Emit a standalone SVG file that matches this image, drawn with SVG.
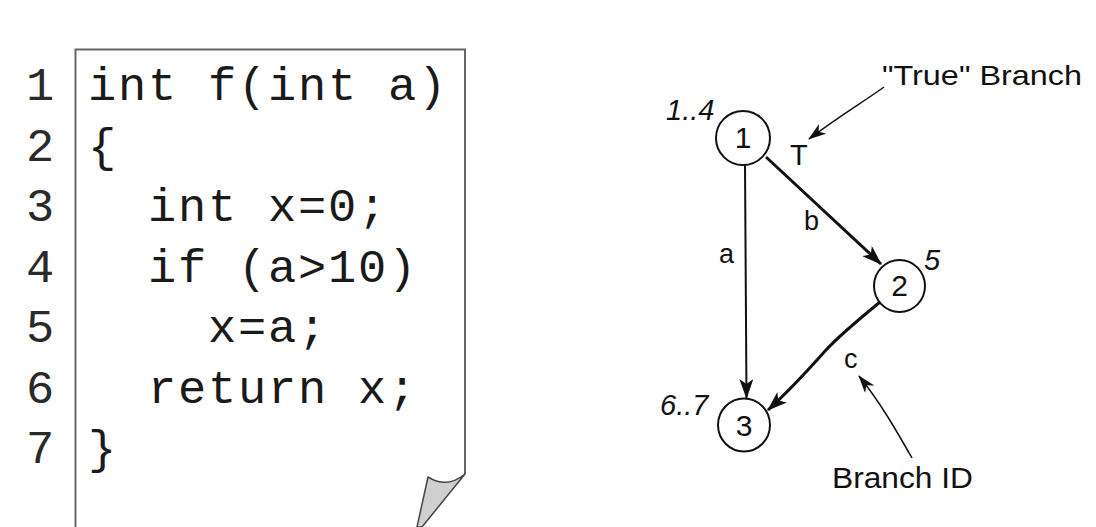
<svg xmlns="http://www.w3.org/2000/svg" width="1096" height="527" viewBox="0 0 1096 527">
<style>
.code{font-family:"Liberation Mono","Courier New",monospace;font-size:47px;letter-spacing:1.8px;fill:#1a1a1a}
.ln{font-family:"Liberation Mono","Courier New",monospace;font-size:47px;fill:#2a2a2a;text-anchor:middle}
.lbl{font-family:"Liberation Sans",Arial,sans-serif;fill:#111}
.num{font-family:"Liberation Sans",Arial,sans-serif;font-size:30px;fill:#111;text-anchor:middle}
.it{font-family:"Liberation Sans",Arial,sans-serif;font-size:29px;font-style:italic;fill:#111}
.node{fill:#fff;stroke:#111;stroke-width:2}
.edge{fill:none;stroke:#111}
</style>
<defs>
<marker id="ah" viewBox="0 0 20 14" refX="19" refY="7" markerWidth="20" markerHeight="14" markerUnits="userSpaceOnUse" orient="auto">
<path d="M0,0 L20,7 L0,14 L5,7 Z" fill="#111"/>
</marker>
<marker id="ahs" viewBox="0 0 18 12" refX="17" refY="6" markerWidth="18" markerHeight="12" markerUnits="userSpaceOnUse" orient="auto">
<path d="M0,0 L18,6 L0,12 L5,6 Z" fill="#111"/>
</marker>
</defs>
<rect width="1096" height="527" fill="#fff"/>
<g id="page">
<path d="M75.5,527 L75.5,49.5 L465,49.5 L465,474" fill="none" stroke="#666" stroke-width="2"/>
<path d="M465,474 Q447,489 428,477 L417,527 L422,527 Z" fill="#cfcfcf" stroke="#444" stroke-width="1.5" stroke-linejoin="round"/>
</g>
<g id="line-numbers">
<text class="ln" x="40" y="100">1</text>
<text class="ln" x="40" y="160.5">2</text>
<text class="ln" x="40" y="221">3</text>
<text class="ln" x="40" y="281.5">4</text>
<text class="ln" x="40" y="342">5</text>
<text class="ln" x="40" y="402.5">6</text>
<text class="ln" x="40" y="463">7</text>
</g>
<g id="code">
<text class="code" x="88" y="100" xml:space="preserve">int f(int a)</text>
<text class="code" x="88" y="160.5">{</text>
<text class="code" x="148" y="221" xml:space="preserve">int x=0;</text>
<text class="code" x="148" y="281.5" xml:space="preserve">if (a&gt;10)</text>
<text class="code" x="208" y="342">x=a;</text>
<text class="code" x="148" y="402.5" xml:space="preserve">return x;</text>
<text class="code" x="88" y="463">}</text>
</g>
<g id="connectors">
<path id="edge-a" class="edge" d="M745,165 L746.5,398" stroke-width="2" marker-end="url(#ah)"/>
<path id="edge-b" class="edge" d="M766,157 L881,264" stroke-width="3" marker-end="url(#ah)"/>
<path id="edge-c" class="edge" d="M880,302 C858,320 840,335 826,350 C810,368 790,390 768,410" stroke-width="3" marker-end="url(#ah)"/>
<path id="ptr-true" class="edge" d="M884,87 C862,103 845,112 809,139" stroke-width="1.5" marker-end="url(#ahs)"/>
<path id="ptr-id" class="edge" d="M912,458 C896,430 880,402 859,376" stroke-width="1.5" marker-end="url(#ahs)"/>
<circle cx="880" cy="302" r="2" fill="#111"/>
</g>
<g id="node1">
<ellipse class="node" cx="743" cy="138" rx="27" ry="27"/>
<text class="num" x="743" y="148">1</text>
<text class="it" x="666" y="120">1..4</text>
</g>
<g id="node2">
<ellipse class="node" cx="899.5" cy="286" rx="25.5" ry="26"/>
<text class="num" x="899.5" y="296">2</text>
<text class="it" x="924" y="270">5</text>
</g>
<g id="node3">
<ellipse class="node" cx="744" cy="425" rx="26" ry="26.5"/>
<text class="num" x="744" y="436">3</text>
<text class="it" x="660" y="415">6..7</text>
</g>
<g id="labels">
<text class="lbl" x="790" y="165" font-size="29">T</text>
<text class="lbl" x="719" y="263" font-size="27">a</text>
<text class="lbl" x="804" y="230" font-size="27">b</text>
<text class="lbl" x="844" y="368" font-size="27">c</text>
<text class="lbl" x="882" y="85" font-size="28" textLength="200" lengthAdjust="spacingAndGlyphs">"True" Branch</text>
<text class="lbl" x="832" y="488" font-size="30" textLength="141" lengthAdjust="spacingAndGlyphs">Branch ID</text>
</g>
</svg>
